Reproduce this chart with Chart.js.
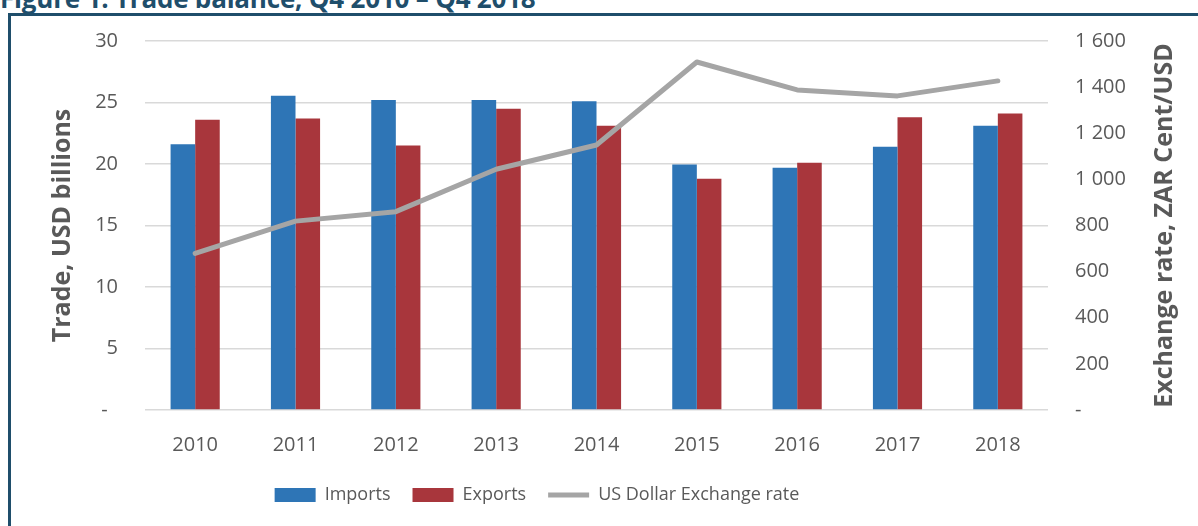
<!DOCTYPE html>
<html lang="en">
<head>
<meta charset="UTF-8">
<title>Trade balance</title>
<style>
  html, body { margin: 0; padding: 0; background: #fff; overflow: hidden; }
  #wrap { position: relative; width: 1198px; height: 526px; overflow: hidden; }
  #heading { position: absolute; left: 0; top: -15px; font: bold 26px "Open Sans", sans-serif; line-height: 26px; color: #1f4e6b; white-space: nowrap; letter-spacing: -0.2px; }
  #frame { position: absolute; left: 8px; top: 13px; width: 1400px; height: 700px; border: 3px solid #1f4e6b; }
  #chartBox { position: absolute; left: 0; top: 0; width: 1198px; height: 526px; }
</style>
</head>
<body>
<script src="https://cdn.jsdelivr.net/npm/chart.js"></script>
<div id="wrap">
  <div id="heading">Figure 1: Trade balance, Q4 2010 – Q4 2018</div>
  <div id="frame"></div>
  <div id="chartBox"><canvas id="myChart" width="1198" height="526"></canvas></div>
</div>
<script>
  // data
  const years = ['2010', '2011', '2012', '2013', '2014', '2015', '2016', '2017', '2018'];
  const imports = [21.6, 25.55, 25.2, 25.2, 25.1, 19.95, 19.7, 21.4, 23.1];
  const exports = [23.6, 23.7, 21.5, 24.5, 23.1, 18.8, 20.1, 23.8, 24.1];
  const usdRate = [679, 819, 860, 1044, 1149, 1509, 1388, 1362, 1427];

  const grey = '#595959';
  const font = 'Open Sans';
  const rightTitle = 'Exchange rate, ZAR Cent/USD';

  // legend nudged to where the original one is
  const legendShift = {
    id: 'legendShift',
    afterLayout(chart) {
      const lg = chart.legend;
      lg.left -= 77;
      lg.right -= 77;
    }
  };

  // right axis title reads bottom-to-top in the original
  const rightAxisTitle = {
    id: 'rightAxisTitle',
    afterDraw(chart) {
      const c = chart.ctx;
      const a = chart.chartArea;
      c.save();
      c.translate(1165, (a.top + a.bottom) / 2);
      c.rotate(-Math.PI / 2);
      c.font = 'bold 25px "Open Sans"';
      c.fillStyle = grey;
      c.textAlign = 'center';
      c.textBaseline = 'middle';
      c.fillText(rightTitle, 0, 0);
      c.restore();
    }
  };

  const ctx = document.getElementById('myChart').getContext('2d');
  new Chart(ctx, {
    type: 'bar',
    data: {
      labels: years,
      datasets: [
        {
          label: 'Imports',
          data: imports,
          backgroundColor: '#2e75b6',
          categoryPercentage: 0.49,
          barPercentage: 1,
          yAxisID: 'y',
          order: 1
        },
        {
          label: 'Exports',
          data: exports,
          backgroundColor: '#a8363c',
          categoryPercentage: 0.49,
          barPercentage: 1,
          yAxisID: 'y',
          order: 1
        },
        {
          type: 'line',
          label: 'US Dollar Exchange rate',
          data: usdRate,
          borderColor: '#a5a5a5',
          backgroundColor: '#a5a5a5',
          borderWidth: 5,
          borderCapStyle: 'round',
          borderJoinStyle: 'round',
          pointRadius: 0,
          tension: 0,
          yAxisID: 'y1',
          order: 0
        }
      ]
    },
    options: {
      responsive: false,
      animation: false,
      layout: { padding: { left: 40, right: 10, top: 41, bottom: 12 } },
      plugins: {
        tooltip: { enabled: false },
        legend: {
          position: 'bottom',
          labels: {
            usePointStyle: true,
            pointStyleWidth: 41,
            boxHeight: 14,
            padding: 22,
            color: grey,
            font: { family: font, size: 18 },
            sort: (a, b) => a.datasetIndex - b.datasetIndex,
            generateLabels(chart) {
              const items = Chart.defaults.plugins.legend.labels.generateLabels(chart);
              items.forEach(it => {
                it.pointStyle = it.datasetIndex === 2 ? 'line' : 'rect';
                if (it.datasetIndex !== 2) it.lineWidth = 0;
              });
              return items;
            }
          }
        }
      },
      scales: {
        x: {
          grid: { display: false },
          border: { display: false },
          ticks: { color: grey, padding: 15, font: { family: font, size: 20 } },
          afterFit(s) { s.height = 54; }
        },
        y: {
          position: 'left',
          min: 0,
          max: 30,
          ticks: {
            stepSize: 5,
            color: grey,
            padding: 27,
            font: { family: font, size: 20 },
            callback: v => v === 0 ? '-  ' : v
          },
          grid: { color: '#d9d9d9', lineWidth: 1.5, drawTicks: false },
          border: { display: false },
          title: {
            display: true,
            text: 'Trade, USD billions',
            color: grey,
            padding: { top: 8, bottom: 4 },
            font: { family: font, size: 25, weight: 'bold' }
          },
          afterFit(s) { s.width = 105; }
        },
        y1: {
          position: 'right',
          min: 0,
          max: 1600,
          ticks: {
            stepSize: 200,
            color: grey,
            padding: 27,
            font: { family: font, size: 20 },
            callback: v => v === 0 ? '-' : String(v).replace(/\B(?=(\d{3})+(?!\d))/g, ' ')
          },
          grid: { display: false, drawTicks: false },
          border: { display: false },
          afterFit(s) { s.width = 140; }
        }
      }
    },
    plugins: [legendShift, rightAxisTitle]
  });
</script>
</body>
</html>
